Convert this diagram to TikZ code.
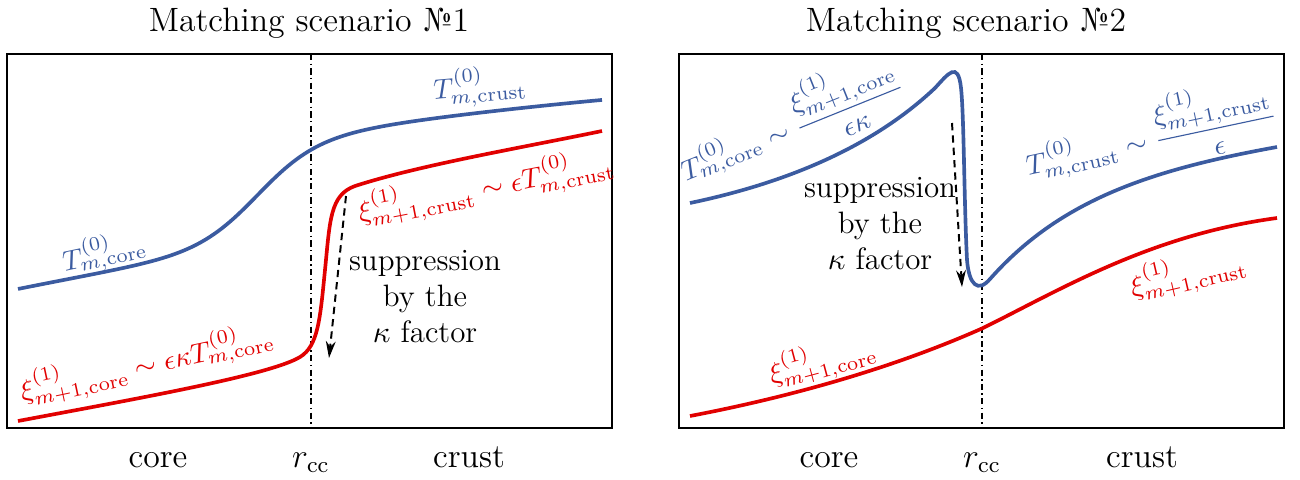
\documentclass[tikz,border=0pt]{standalone}
\usepackage{amsmath,amssymb}
\usepackage{xcolor}
\usepackage{tikz}
\usetikzlibrary{arrows.meta}

\definecolor{curveblue}{RGB}{59,91,160}
\definecolor{curvered}{RGB}{225,0,0}

\begin{document}
\begin{tikzpicture}[
    x=0.0125cm, y=-0.0125cm,
    frame/.style={draw, line width=0.6pt},
    rccline/.style={line width=0.6pt, dash pattern=on 2.2pt off 1.2pt on 0.5pt off 1.2pt},
    bcurve/.style={curveblue, line width=1.3pt},
    rcurve/.style={curvered, line width=1.3pt},
    blbl/.style={text=curveblue, font=\fontsize{10}{12}\selectfont, inner sep=1pt},
    rlbl/.style={text=curvered, font=\fontsize{10}{12}\selectfont, inner sep=1pt},
    ttl/.style={anchor=base, font=\fontsize{12}{14.5}\selectfont},
    axlbl/.style={anchor=base, font=\fontsize{12}{14.5}\selectfont},
    supp/.style={font=\fontsize{11}{12.8}\selectfont, align=center},
    darr/.style={-{Stealth[length=6pt,width=3.5pt]}, line width=0.7pt, dash pattern=on 2.6pt off 1.8pt}
]
    \useasboundingbox (0,0) rectangle (1300,479);

    % Scenario 1
    \node[ttl] (titleA) at (309,31) {Matching scenario №1};
    \draw[frame] (7,54) rectangle (612,428);
    \draw[rccline] (311,54) -- (311,428);

    % T curve
    \draw[bcurve] plot[domain=18:602, samples=150]
        (\x, {194.6 - 0.155*(\x-258) - 52*tanh((\x-258)/60) + 0.9*((\x-258)/100)^2});
    % xi curve
    \draw[rcurve] (18,421) .. controls (140,398) and (270,375) .. (300,357)
        .. controls (318,346) and (320,320) .. (325,270)
        .. controls (330,220) and (330,195) .. (355,186)
        .. controls (420,165) and (520,148) .. (602,131);

    \node[blbl, rotate=12] (TcoreA) at (104,252) {$T^{(0)}_{m,\mathrm{core}}$};
    \node[blbl, rotate=5] (TcrustA) at (480,86) {$T^{(0)}_{m,\mathrm{crust}}$};
    \node[rlbl, rotate=11] (xicrustA) at (486,188)
        {$\xi^{(1)}_{m+1,\mathrm{crust}} \sim \epsilon T^{(0)}_{m,\mathrm{crust}}$};
    \node[rlbl, rotate=12] (xicoreA) at (147,365)
        {$\xi^{(1)}_{m+1,\mathrm{core}} \sim \epsilon\kappa T^{(0)}_{m,\mathrm{core}}$};

    \node[supp] (suppA) at (425,297) {suppression\\by the\\$\kappa$ factor};
    \coordinate (arrAtop) at (346,196);
    \coordinate (arrAbot) at (329,358);
    \draw[darr] (arrAtop) -- (arrAbot);

    \node[axlbl] (coreA) at (158,467) {core};
    \node[axlbl] (rccA) at (311,467) {$r_{\mathrm{cc}}$};
    \node[axlbl] (crustA) at (469,467) {crust};

    % Scenario 2
    \node[ttl] (titleB) at (966,31) {Matching scenario №2};
    \draw[frame] (679,54) rectangle (1284,428);
    \draw[rccline] (982,54) -- (982,428);

    % T curve
    \draw[bcurve] (690,203) .. controls (800,180) and (880,140) .. (935,88)
        .. controls (948,74) and (958,60) .. (961,88)
        .. controls (964,115) and (964,200) .. (967,260)
        .. controls (969,285) and (978,293) .. (990,279)
        .. controls (1060,200) and (1150,170) .. (1277,147);
    % xi curve
    \draw[rcurve] (690,416) .. controls (800,395) and (900,365) .. (983,328)
        .. controls (1060,290) and (1150,235) .. (1277,218);

    \node[blbl, rotate=22] (TcoreB) at (790,122)
        {$T^{(0)}_{m,\mathrm{core}} \sim \dfrac{\xi^{(1)}_{m+1,\mathrm{core}}}{\epsilon\kappa}$};
    \node[blbl, rotate=12] (TcrustB) at (1150,133)
        {$T^{(0)}_{m,\mathrm{crust}} \sim \dfrac{\xi^{(1)}_{m+1,\mathrm{crust}}}{\epsilon}$};
    \node[rlbl, rotate=15] (xicoreB) at (822,361) {$\xi^{(1)}_{m+1,\mathrm{core}}$};
    \node[rlbl, rotate=13] (xicrustB) at (1188,274) {$\xi^{(1)}_{m+1,\mathrm{crust}}$};

    \node[supp] (suppB) at (880,224) {suppression\\by the\\$\kappa$ factor};
    \coordinate (arrBtop) at (952,123);
    \coordinate (arrBbot) at (962,287);
    \draw[darr] (arrBtop) -- (arrBbot);

    \node[axlbl] (coreB) at (829,467) {core};
    \node[axlbl] (rccB) at (982,467) {$r_{\mathrm{cc}}$};
    \node[axlbl] (crustB) at (1142,467) {crust};
\end{tikzpicture}
\end{document}
